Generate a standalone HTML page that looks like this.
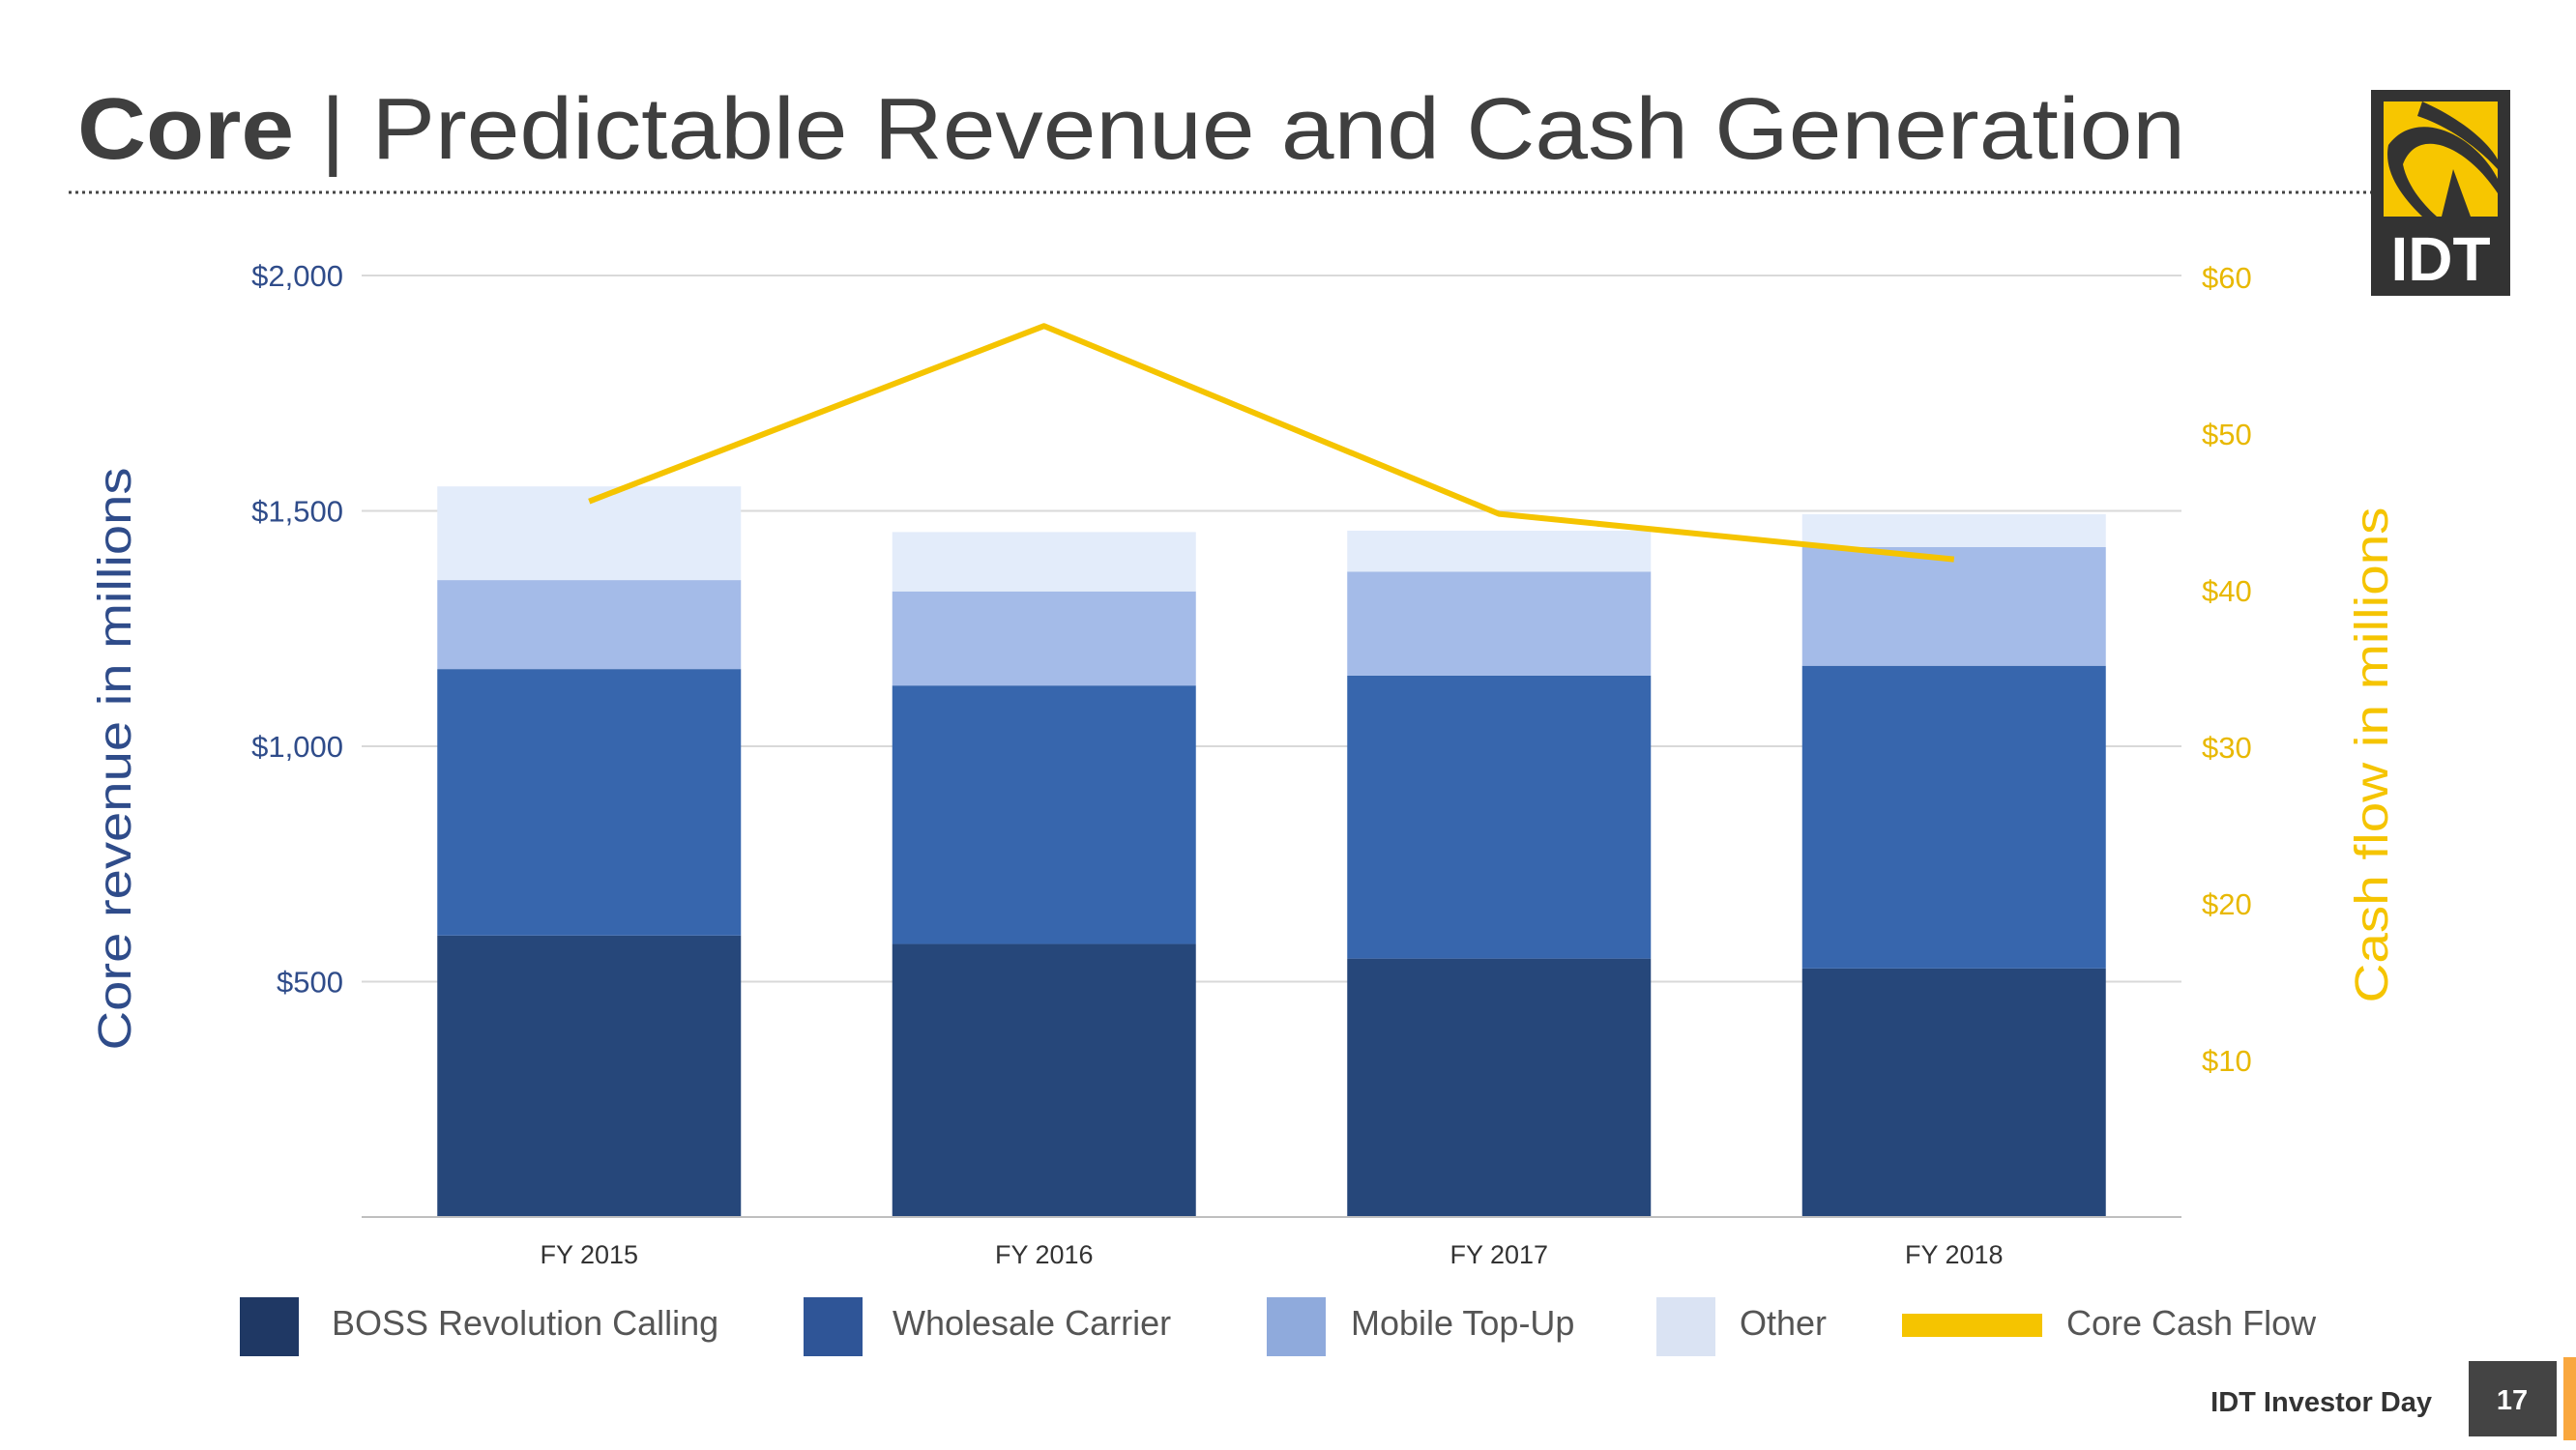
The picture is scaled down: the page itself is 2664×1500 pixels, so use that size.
<!DOCTYPE html>
<html><head><meta charset="utf-8"><style>
html,body{margin:0;padding:0;background:#fff;}
svg{display:block;font-family:"Liberation Sans",sans-serif;}
</style></head><body>
<svg id="chart" width="2664" height="1500" viewBox="0 0 2664 1500" xmlns="http://www.w3.org/2000/svg">
<g>
<text x="80" y="164" font-size="90" fill="#3f3f3f" textLength="2180" lengthAdjust="spacingAndGlyphs"><tspan font-weight="bold">Core</tspan> | Predictable Revenue and Cash Generation</text>
</g>
<line x1="71" y1="199" x2="2452" y2="199" stroke="#444" stroke-width="3" stroke-dasharray="3,4"/>
<g>
<rect x="2452" y="93" width="144" height="213" fill="#333"/>
<rect x="2465" y="105" width="118" height="119" fill="#f7c600"/>
<path d="M2505 105 C2550 125 2575 150 2583 165 L2583 175 C2560 150 2530 130 2500 120 Z" fill="#333"/>
<path d="M2470 150 C2500 110 2560 140 2583 185 L2583 200 C2550 150 2500 130 2485 170 C2490 195 2510 215 2520 224 L2505 224 C2480 200 2465 175 2470 150 Z" fill="#333"/>
<path d="M2537 175 L2525 224 L2555 224 Z" fill="#333"/>
<text x="2524" y="290" font-size="64" font-weight="bold" fill="#fff" text-anchor="middle">IDT</text>
</g>
<g id="plot"></g>
<g>
<text x="2515" y="1460" font-size="29" font-weight="bold" fill="#333" text-anchor="end">IDT Investor Day</text>
<rect x="2553" y="1408" width="91" height="78" fill="#444"/>
<text x="2598" y="1458" font-size="29" font-weight="bold" fill="#fff" text-anchor="middle">17</text>
<rect x="2651" y="1404" width="13" height="86" fill="#f9a73e"/>
</g>
</svg>
<script>
const categories = ["FY 2015","FY 2016","FY 2017","FY 2018"];
const boss = [598, 580, 549, 528];
const wholesale = [566, 549, 601, 643];
const mobile = [189, 200, 221, 252];
const other = [199, 126, 87, 70];
const cashFlow = [45.7, 56.9, 44.9, 42.0];
const leftTicks = [500, 1000, 1500, 2000];
const leftTickLabels = ["$500","$1,000","$1,500","$2,000"];
const rightTicks = [10, 20, 30, 40, 50, 60];
const rightTickLabels = ["$10","$20","$30","$40","$50","$60"];

const NS = "http://www.w3.org/2000/svg";
const plot = document.getElementById('plot');
const X0 = 374, X1 = 2256, BASE = 1259, TOP = 285;
const yL = v => BASE - v / 2000 * (BASE - TOP);
const yR = v => BASE - v / 60 * (BASE - 287);
const step = (X1 - X0) / categories.length;
const xC = i => X0 + step * (i + 0.5);
const BW = 314;
function mk(tag, attrs, parent) {
  const e = document.createElementNS(NS, tag);
  for (const k in attrs) e.setAttribute(k, attrs[k]);
  (parent || plot).appendChild(e);
  return e;
}
leftTicks.forEach((t, i) => {
  const g = mk('line', {x1: X0, x2: X1, y1: yL(t), y2: yL(t), stroke: '#d9d9d9', 'stroke-width': 2});
  
  
  const tx = mk('text', {x: 355, y: yL(t) + 11, 'font-size': 31, fill: '#2f4c8a', 'text-anchor': 'end'});
  tx.textContent = leftTickLabels[i];
  
  
});
rightTicks.forEach((t, i) => {
  const tx = mk('text', {x: 2277, y: yR(t) + 11, 'font-size': 31, fill: '#e8b800'});
  tx.textContent = rightTickLabels[i];
  
  
});
const series = [[boss, '#26477a', 'bar-boss'], [wholesale, '#3766ad', 'bar-wholesale'], [mobile, '#a4bbe8', 'bar-mobile'], [other, '#e3ecfa', 'bar-other']];
categories.forEach((c, i) => {
  let acc = 0;
  series.forEach(([arr, col, nm]) => {
    const y0 = yL(acc), y1 = yL(acc + arr[i]);
    const r = mk('rect', {x: xC(i) - BW / 2, y: y1, width: BW, height: y0 - y1, fill: col});
    
    
    acc += arr[i];
  });
  const tx = mk('text', {x: xC(i), y: 1307, 'font-size': 27, fill: '#333', 'text-anchor': 'middle'});
  tx.textContent = c;
  
  
});
const ax = mk('line', {x1: X0, x2: X1, y1: BASE, y2: BASE, stroke: '#bfbfbf', 'stroke-width': 2});


const pts = cashFlow.map((v, i) => xC(i) + ',' + yR(v)).join(' ');
const pl = mk('polyline', {points: pts, fill: 'none', stroke: '#f5c400', 'stroke-width': 6, 'stroke-linejoin': 'round'});


const lt = mk('text', {x: 0, y: 0, 'font-size': 48, fill: '#2f4c8a', 'text-anchor': 'middle', textLength: 603, lengthAdjust: 'spacingAndGlyphs', transform: 'translate(135,785) rotate(-90)'});
lt.textContent = 'Core revenue in millions';


const rt = mk('text', {x: 0, y: 0, 'font-size': 48, fill: '#f5c400', 'text-anchor': 'middle', textLength: 513, lengthAdjust: 'spacingAndGlyphs', transform: 'translate(2469,781) rotate(-90)'});
rt.textContent = 'Cash flow in millions';


const legend = [['BOSS Revolution Calling', '#1f3864', 248, 343], ['Wholesale Carrier', '#2f5597', 831, 923], ['Mobile Top-Up', '#8faadc', 1310, 1397], ['Other', '#dae3f3', 1713, 1799]];
legend.forEach(([label, col, sx, tx0]) => {
  const s = mk('rect', {x: sx, y: 1342, width: 61, height: 61, fill: col});
  
  
  const t = mk('text', {x: tx0, y: 1381, 'font-size': 36, fill: '#555'});
  t.textContent = label;
  
  
});
const ls = mk('rect', {x: 1967, y: 1359, width: 145, height: 24, fill: '#f5c400'});


const lc = mk('text', {x: 2137, y: 1381, 'font-size': 36, fill: '#555'});
lc.textContent = 'Core Cash Flow';


</script>
</body></html>
